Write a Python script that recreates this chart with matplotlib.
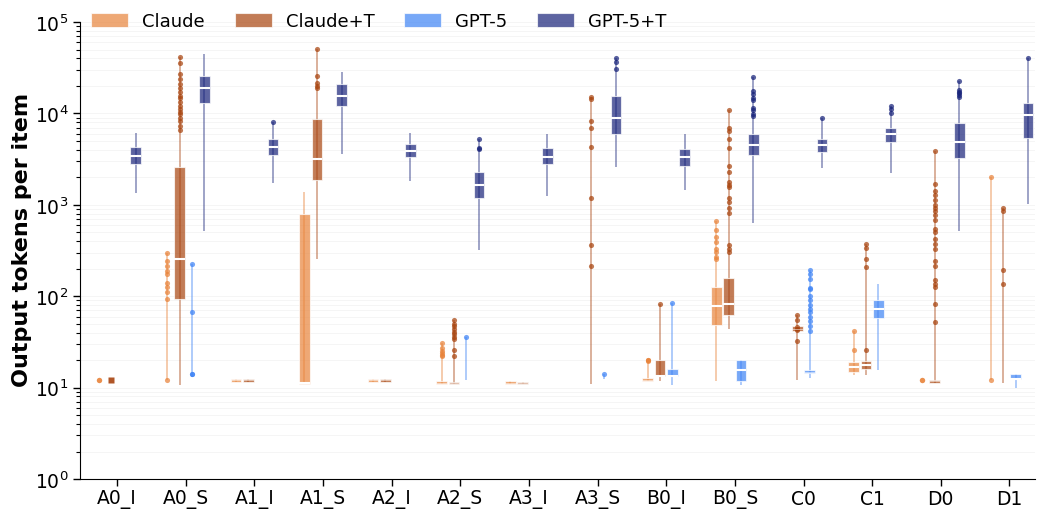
import numpy as np
import matplotlib
matplotlib.use("Agg")
import matplotlib.pyplot as plt
from matplotlib.colors import to_rgba
from matplotlib.patches import Patch

categories = ["A0_I", "A0_S", "A1_I", "A1_S", "A2_I", "A2_S", "A3_I",
              "A3_S", "B0_I", "B0_S", "C0", "C1", "D0", "D1"]
series_names = ["Claude", "Claude+T", "GPT-5", "GPT-5+T"]

# per series: q1, median, q3, whisker low (min), whisker high (max), outliers
claude_q1 = [12, 12, 11.5, 11, 11.5, 11, 11, 11, 11.7, 49, None, 14.9, 12, 12]
claude_med = [12, 12, 12, 11.3, 12, 11.3, 11.3, 11, 12.1, 78, None, 16.8, 12, 12]
claude_q3 = [12, 12, 12.45, 784, 12.45, 11.7, 11.7, 11, 12.6, 127, None, 19.1, 12, 12]
claude_lo = [12, 12, 11.5, 11, 11.5, 11, 11, 11, 11.7, 11.7, None, 13.9, 12, 12]
claude_hi = [12, 298, 12.45, 1390, 12.45, 31, 11.7, 11, 20, 668, None, 41.7, 12, 2030]
claude_out = [[12], [298, 244, 213, 188, 177, 138, 127, 110, 94, 12], [], [], [],
              [31, 27, 25, 24, 23, 22], [], [], [20, 19.8, 20.3],
              [668, 530, 446, 393, 326, 306, 270, 254], [], [41.7, 26], [12],
              [2030, 12]]

claudet_q1 = [12, 94, 11.5, 1862, 11.5, 10.9, 10.9, 11, 13.3, 63, 42, 15.9, 11.3, 11.3]
claudet_med = [12, 254, 12, 3134, 12, 11.3, 11.3, 11, 13.3, 83, 44, 17.8, 11.7, 11.3]
claudet_q3 = [12, 2563, 12.45, 8590, 12.45, 11.6, 11.6, 11, 20.2, 159, 47, 19.6, 12.1, 11.3]
claudet_lo = [12, 10.8, 11.5, 254, 11.5, 10.9, 10.9, 11, 11.7, 44, 12.2, 13.9, 11.3, 11.3]
claudet_hi = [12, 41000, 12.45, 50200, 12.45, 54.5, 11.6, 15000, 81.6, 10870, 62, 377, 3900, 912]
claudet_out = [[12],
               [41000, 35300, 26700, 23600, 20800, 18800, 17000, 15700, 14600,
                13500, 12200, 11300, 10500, 9750, 8810, 8170, 7380, 6510],
               [], [50200, 25800, 21800, 20200, 19000], [],
               [54.5, 50, 47, 44, 41, 39, 36, 34, 26, 22.4], [],
               [15000, 14500, 8300, 6900, 4240, 1200, 361, 213], [81.6],
               [10870, 6855, 6400, 5230, 4140, 2675, 2297, 1787, 1668, 1574,
                1194, 1080, 912, 817, 361, 332, 301],
               [62, 55, 46, 44, 43, 32], [377, 341, 258, 210, 26],
               [3900, 1711, 1424, 1275, 1123, 990, 912, 851, 769, 678, 550, 506,
                428, 377, 332, 241, 215, 150, 137, 127, 83, 52],
               [912, 851, 196, 137]]

gpt_q1 = [None, 14, None, None, None, 12.2, None, 12.5, 13.3, 11.7, 14.6, 58.3, None, 12.3]
gpt_med = [None, 14, None, None, None, 12.2, None, 12.5, 13.3, 15.5, 15, 72, None, 12.35]
gpt_q3 = [None, 14, None, None, None, 12.2, None, 12.5, 16.1, 20.2, 15.4, 90.3, None, 14.2]
gpt_lo = [None, 13, None, None, None, 12.2, None, 12.5, 10.8, 10.8, 12.7, 15.7, None, 9.9]
gpt_hi = [None, 228, None, None, None, 36, None, 14, 85, 20.2, 196, 135, None, 14.2]
gpt_out = [[], [228, 68, 14, 14.2], [], [], [], [36], [], [14], [85], [],
           [196, 177, 156, 123, 119, 101, 90, 81, 73, 67, 59, 53, 47, 42],
           [], [], []]

gptt_q1 = [2785, 12860, 3493, 11920, 3356, 1194, 2763, 5890, 2675, 3493, 3740, 4897, 3214, 5320]
gptt_med = [3443, 18800, 4240, 15700, 3900, 1640, 3356, 8970, 3297, 4495, 4495, 5890, 4810, 9570]
gptt_q3 = [4315, 25400, 5190, 20800, 4575, 2297, 4140, 15600, 4035, 5890, 5230, 6855, 7770, 12860]
gptt_lo = [1364, 514, 1755, 3555, 1814, 324, 1256, 2563, 1445, 640, 2500, 2203, 519, 1016]
gptt_hi = [6040, 44300, 7970, 28600, 6040, 5190, 5935, 40000, 5890, 25200, 8970, 12020, 22550, 40700]
gptt_out = [[], [], [7970], [], [], [5190, 4200, 4035], [],
            [40000, 36800, 30300], [],
            [25200, 17540, 16260, 14590, 13990, 11530, 10870, 9750, 9340],
            [8970], [12020, 11060, 10000],
            [22550, 17990, 17270, 16560, 15860, 15230], [40700]]

series_data = [
    (claude_q1, claude_med, claude_q3, claude_lo, claude_hi, claude_out),
    (claudet_q1, claudet_med, claudet_q3, claudet_lo, claudet_hi, claudet_out),
    (gpt_q1, gpt_med, gpt_q3, gpt_lo, gpt_hi, gpt_out),
    (gptt_q1, gptt_med, gptt_q3, gptt_lo, gptt_hi, gptt_out),
]

base_colors = ["#E8833A", "#A8440F", "#3E83F5", "#18237A"]
single_markers = ["o", "s", "o", "o"]
offsets = [-0.27, -0.09, 0.09, 0.27]
box_w = 0.155

fig = plt.figure(figsize=(10.39, 5.10), dpi=100)
ax = fig.add_axes([0.077, 0.0588, 0.919, 0.896])
ax.set_yscale("log")

x = np.arange(len(categories))
for (q1s, meds, q3s, los, his, outs), col, off, mk in zip(
        series_data, base_colors, offsets, single_markers):
    stats, pos = [], []
    for i in range(len(categories)):
        if q1s[i] is None:
            continue
        stats.append(dict(q1=q1s[i], med=meds[i], q3=q3s[i],
                          whislo=los[i], whishi=his[i], fliers=outs[i]))
        pos.append(x[i] + off)
    # full-range line behind the box
    ax.vlines(pos, [s["whislo"] for s in stats], [s["whishi"] for s in stats],
              color=col, alpha=0.42, lw=1.4, zorder=1)
    art = ax.bxp(stats, positions=pos, widths=box_w, patch_artist=True,
                 showcaps=False, manage_ticks=False,
                 boxprops=dict(facecolor=to_rgba(col, 0.7),
                               edgecolor=(1, 1, 1, 0.7), linewidth=0.8),
                 whiskerprops=dict(linewidth=0),
                 medianprops=dict(color="white", linewidth=1.5,
                                  solid_capstyle="butt"),
                 flierprops=dict(marker="o", markersize=3.7, markerfacecolor=col,
                                 markeredgecolor="none", alpha=0.72),
                 zorder=2)
    for s, b, m, f in zip(stats, art["boxes"], art["medians"], art["fliers"]):
        if s["q3"] <= s["q1"]:
            b.set_visible(False)
            m.set_visible(False)
            if s["whishi"] <= s["whislo"]:
                f.set_marker(mk)
                f.set_markersize(3.9)
                f.set_alpha(0.9)
        elif s["q3"] / s["q1"] < 1.12:
            m.set_linewidth(0.6)
            m.set_alpha(0.6)

ax.set_ylim(1, 1e5)
ax.set_xlim(-0.54, 13.37)
ax.set_xticks(x)
ax.set_xticklabels(categories, fontsize=13.5)
ax.tick_params(axis="y", labelsize=13.5)
ax.tick_params(axis="both", which="major", length=5, width=1)
ax.tick_params(axis="x", pad=2.5)
ax.tick_params(axis="y", which="minor", length=3, width=0.8)
ax.set_ylabel("Output tokens per item", fontsize=16, fontweight="bold",
              labelpad=2, y=0.525)
for s in ["top", "right"]:
    ax.spines[s].set_visible(False)
ax.yaxis.grid(True, which="both", color="#f4f4f4", linewidth=0.6)
ax.set_axisbelow(True)

handles = [Patch(facecolor=to_rgba(c, 0.7), edgecolor=(1, 1, 1, 0.7), linewidth=0.8)
           for c in base_colors]
fig.legend(handles, series_names, loc="center left",
           bbox_to_anchor=(0.079, 0.957), ncol=4, frameon=False,
           fontsize=13, handlelength=2.05, handleheight=0.83,
           handletextpad=0.78, columnspacing=1.65, borderpad=0)

fig.savefig("out.png", dpi=100)
